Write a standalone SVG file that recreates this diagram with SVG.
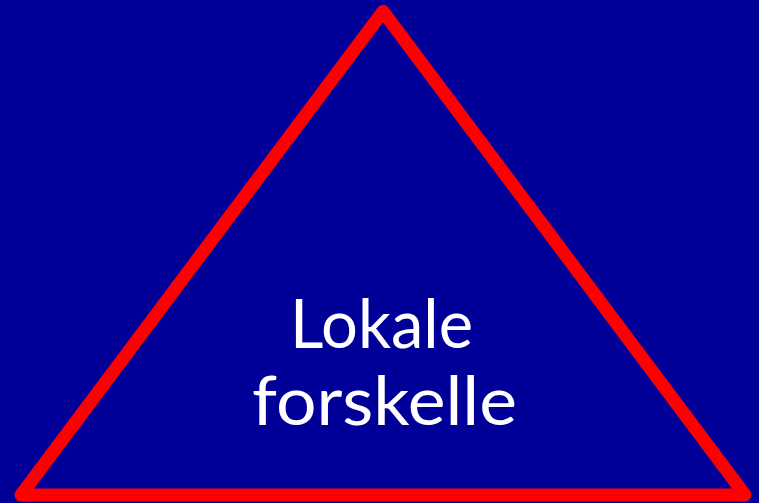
<svg xmlns="http://www.w3.org/2000/svg" width="759" height="503" viewBox="0 0 759 503">
<style>
.bg{fill:#000099}
.tri{fill:none;stroke:#ff0000;stroke-width:13;stroke-linejoin:round}
.lbl{font-family:"Comic Sans MS","Lato","Open Sans",sans-serif;font-size:68px;fill:#ffffff;text-anchor:middle}
</style>
<rect class="bg" x="0" y="0" width="759" height="503"/>
<g id="triangle">
<polygon class="tri" points="383,11.5 21,495 745,495"/>
</g>
<g id="label">
<text class="lbl" x="381.5" y="348" textLength="183" lengthAdjust="spacingAndGlyphs">Lokale</text>
<text class="lbl" x="384.5" y="425" textLength="265" lengthAdjust="spacingAndGlyphs">forskelle</text>
</g>
</svg>
